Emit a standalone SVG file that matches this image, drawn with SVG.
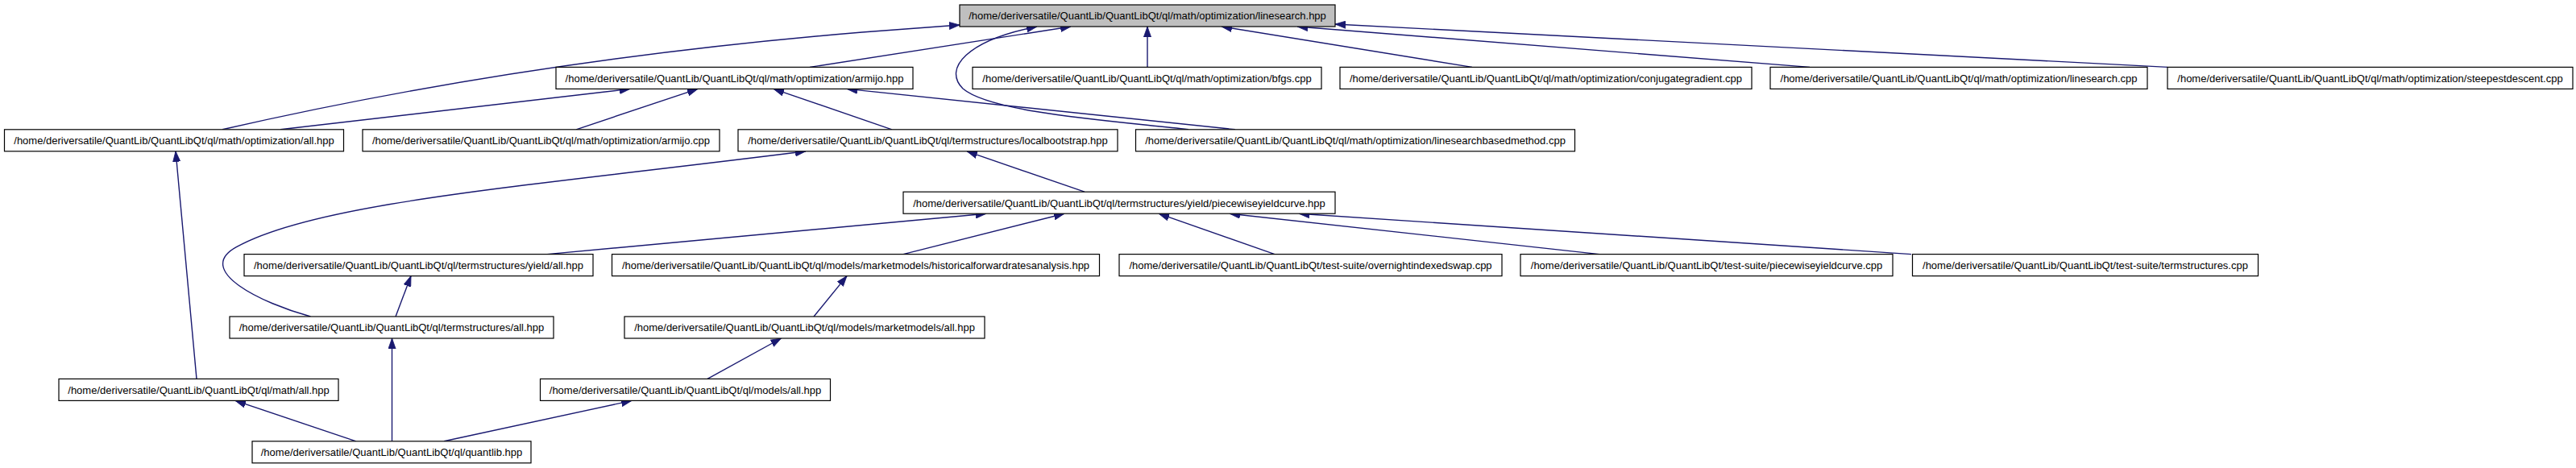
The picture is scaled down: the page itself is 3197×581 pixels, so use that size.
<svg xmlns="http://www.w3.org/2000/svg" width="3197" height="581" viewBox="0 0 3197 581">
<style>
.n rect{fill:#ffffff;stroke:#000000;stroke-width:1.2}
.n.root rect{fill:#bfbfbf}
.n text{font-family:"Liberation Sans",Arial,Helvetica,sans-serif;font-size:13px;fill:#000000;text-anchor:middle}
.e path{fill:none;stroke:#191970;stroke-width:1.4;marker-end:url(#arr)}
</style>
<defs>
<marker id="arr" markerUnits="userSpaceOnUse" markerWidth="13" markerHeight="10" viewBox="0 0 13 10" refX="13" refY="5" orient="auto">
<path d="M0,0.4 L13,5 L0,9.6 z" fill="#191970" stroke="#191970" stroke-width="0.8"/>
</marker>
</defs>
<rect x="0" y="0" width="3197" height="581" fill="#ffffff"/>
<g id="edges" class="e">
<path d="M276,160.8 C541,100 805,62 1070,40 L1191,31"/>
<path d="M348,160.8 L782,110.4"/>
<path d="M715,160.8 L866,110.4"/>
<path d="M1107,160.8 L960,110.4"/>
<path d="M1533,160.8 L1051,110.4"/>
<path d="M1005,83.4 L1329,33"/>
<path d="M1475,160.8 C1380,150 1230,140 1195,110 C1170,85 1200,50 1287,33"/>
<path d="M1424,83.4 L1424,33"/>
<path d="M1827,83.4 L1516,33"/>
<path d="M2246,83.4 L1610,33"/>
<path d="M2690,83.4 L1657,30"/>
<path d="M1346,238.2 L1200,187.8"/>
<path d="M385.5,393 C325.5,376.7 240,336 293.4,306.7 C393,251 650,232 1000,187.8"/>
<path d="M244,470.4 L218,187.8"/>
<path d="M679,315.6 L1224,265.2"/>
<path d="M1121,315.6 L1321,265.2"/>
<path d="M1582,315.6 L1438,265.2"/>
<path d="M1985,315.6 L1526,265.2"/>
<path d="M2372,315.6 L1612,265.2"/>
<path d="M491,393 L510,342.6"/>
<path d="M1010,393 L1051,342.6"/>
<path d="M442,547.8 L292,497.4"/>
<path d="M486.5,547.8 L486.5,420"/>
<path d="M551,547.8 L784,497.4"/>
<path d="M878,470.4 L969.5,420"/>
</g>
<g id="n_linesearch_hpp" class="n root"><rect x="1191" y="6" width="466" height="27"/><text x="1424" y="24.3">/home/deriversatile/QuantLib/QuantLibQt/ql/math/optimization/linesearch.hpp</text></g>
<g id="n_armijo_hpp" class="n"><rect x="690" y="83.4" width="443" height="27"/><text x="911.5" y="101.7">/home/deriversatile/QuantLib/QuantLibQt/ql/math/optimization/armijo.hpp</text></g>
<g id="n_bfgs_cpp" class="n"><rect x="1207" y="83.4" width="433" height="27"/><text x="1423.5" y="101.7">/home/deriversatile/QuantLib/QuantLibQt/ql/math/optimization/bfgs.cpp</text></g>
<g id="n_conjugategradient_cpp" class="n"><rect x="1663" y="83.4" width="511" height="27"/><text x="1918.5" y="101.7">/home/deriversatile/QuantLib/QuantLibQt/ql/math/optimization/conjugategradient.cpp</text></g>
<g id="n_linesearch_cpp" class="n"><rect x="2197" y="83.4" width="468" height="27"/><text x="2431" y="101.7">/home/deriversatile/QuantLib/QuantLibQt/ql/math/optimization/linesearch.cpp</text></g>
<g id="n_steepestdescent_cpp" class="n"><rect x="2690" y="83.4" width="503" height="27"/><text x="2941.5" y="101.7">/home/deriversatile/QuantLib/QuantLibQt/ql/math/optimization/steepestdescent.cpp</text></g>
<g id="n_optimization_all_hpp" class="n"><rect x="5.5" y="160.8" width="421" height="27"/><text x="216" y="179.1">/home/deriversatile/QuantLib/QuantLibQt/ql/math/optimization/all.hpp</text></g>
<g id="n_armijo_cpp" class="n"><rect x="450" y="160.8" width="443" height="27"/><text x="671.5" y="179.1">/home/deriversatile/QuantLib/QuantLibQt/ql/math/optimization/armijo.cpp</text></g>
<g id="n_localbootstrap_hpp" class="n"><rect x="916" y="160.8" width="471" height="27"/><text x="1151.5" y="179.1">/home/deriversatile/QuantLib/QuantLibQt/ql/termstructures/localbootstrap.hpp</text></g>
<g id="n_linesearchbasedmethod_cpp" class="n"><rect x="1409.5" y="160.8" width="545" height="27"/><text x="1682" y="179.1">/home/deriversatile/QuantLib/QuantLibQt/ql/math/optimization/linesearchbasedmethod.cpp</text></g>
<g id="n_piecewiseyieldcurve_hpp" class="n"><rect x="1121" y="238.2" width="536" height="27"/><text x="1389" y="256.5">/home/deriversatile/QuantLib/QuantLibQt/ql/termstructures/yield/piecewiseyieldcurve.hpp</text></g>
<g id="n_yield_all_hpp" class="n"><rect x="303" y="315.6" width="433" height="27"/><text x="519.5" y="333.9">/home/deriversatile/QuantLib/QuantLibQt/ql/termstructures/yield/all.hpp</text></g>
<g id="n_historicalforwardratesanalysis_hpp" class="n"><rect x="759.5" y="315.6" width="605" height="27"/><text x="1062" y="333.9">/home/deriversatile/QuantLib/QuantLibQt/ql/models/marketmodels/historicalforwardratesanalysis.hpp</text></g>
<g id="n_overnightindexedswap_cpp" class="n"><rect x="1389" y="315.6" width="475" height="27"/><text x="1626.5" y="333.9">/home/deriversatile/QuantLib/QuantLibQt/test-suite/overnightindexedswap.cpp</text></g>
<g id="n_piecewiseyieldcurve_cpp" class="n"><rect x="1887" y="315.6" width="462" height="27"/><text x="2118" y="333.9">/home/deriversatile/QuantLib/QuantLibQt/test-suite/piecewiseyieldcurve.cpp</text></g>
<g id="n_termstructures_cpp" class="n"><rect x="2373.5" y="315.6" width="429" height="27"/><text x="2588" y="333.9">/home/deriversatile/QuantLib/QuantLibQt/test-suite/termstructures.cpp</text></g>
<g id="n_termstructures_all_hpp" class="n"><rect x="285" y="393" width="402" height="27"/><text x="486" y="411.3">/home/deriversatile/QuantLib/QuantLibQt/ql/termstructures/all.hpp</text></g>
<g id="n_marketmodels_all_hpp" class="n"><rect x="775" y="393" width="447" height="27"/><text x="998.5" y="411.3">/home/deriversatile/QuantLib/QuantLibQt/ql/models/marketmodels/all.hpp</text></g>
<g id="n_math_all_hpp" class="n"><rect x="73" y="470.4" width="347" height="27"/><text x="246.5" y="488.7">/home/deriversatile/QuantLib/QuantLibQt/ql/math/all.hpp</text></g>
<g id="n_models_all_hpp" class="n"><rect x="670.5" y="470.4" width="360" height="27"/><text x="850.5" y="488.7">/home/deriversatile/QuantLib/QuantLibQt/ql/models/all.hpp</text></g>
<g id="n_quantlib_hpp" class="n"><rect x="313" y="547.8" width="346" height="27"/><text x="486" y="566.1">/home/deriversatile/QuantLib/QuantLibQt/ql/quantlib.hpp</text></g>
</svg>
